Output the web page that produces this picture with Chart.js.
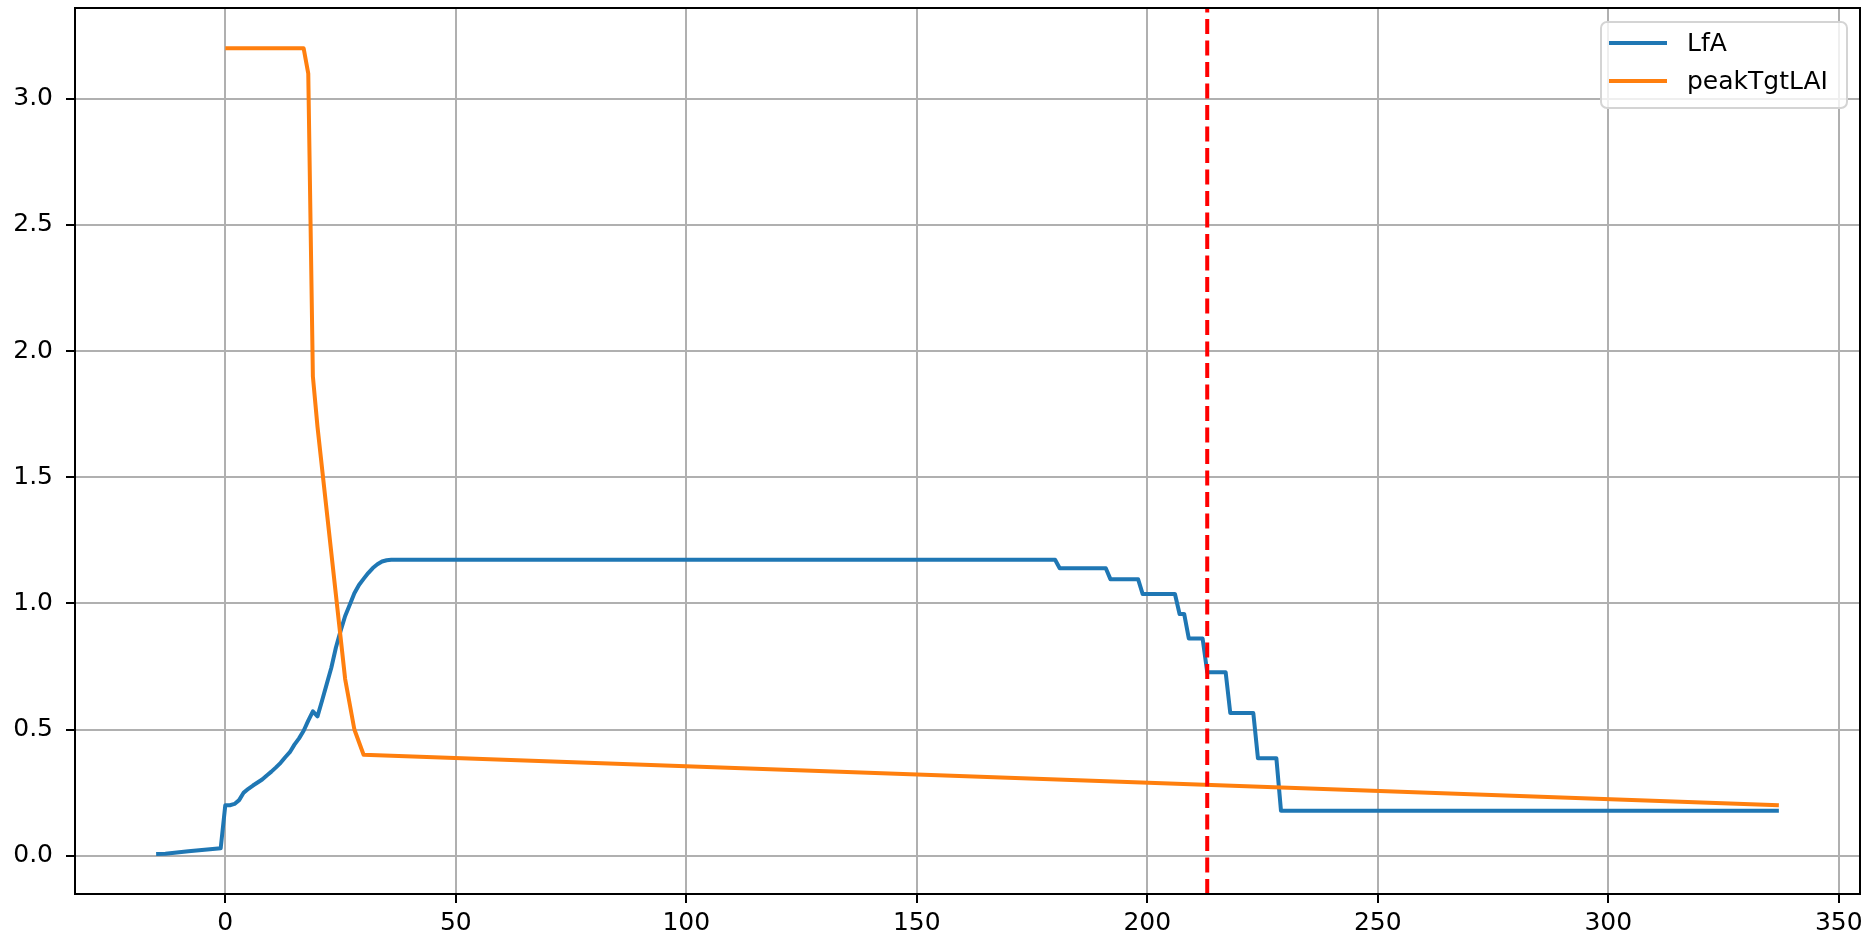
<!DOCTYPE html>
<html>
<head>
<meta charset="utf-8">
<script src="https://cdn.jsdelivr.net/npm/chart.js@4.4.1/dist/chart.umd.min.js"></script>
<style>
html, body { margin: 0; padding: 0; background: #fff; }
</style>
</head>
<body>
<canvas id="grafico" width="1870" height="941"></canvas>
<script>
// LfA series (blue)
var lfaDays = [-15, -13, -8, -1, 0, 1, 2, 3, 4, 5, 6, 7, 8, 9, 10, 11, 12, 13, 14, 15, 16, 17, 18, 19, 20,
    21, 22, 23, 24, 25, 26, 27, 28, 29, 30, 31, 32, 33, 34, 35, 36, 37,
    180, 181, 191, 192, 198, 199, 206, 207, 208, 209, 212, 213, 217, 218, 223, 224, 228, 229, 337];
var lfaValues = [0.007, 0.008, 0.017, 0.029, 0.2, 0.2, 0.205, 0.22, 0.25, 0.265, 0.278, 0.29, 0.302, 0.318, 0.333, 0.35, 0.368, 0.39, 0.41, 0.44, 0.465, 0.495, 0.535, 0.572, 0.552,
    0.615, 0.68, 0.745, 0.825, 0.89, 0.95, 0.995, 1.04, 1.073, 1.097, 1.12, 1.14, 1.155, 1.166, 1.171, 1.173, 1.173,
    1.173, 1.139, 1.139, 1.096, 1.096, 1.037, 1.037, 0.958, 0.958, 0.861, 0.861, 0.727, 0.727, 0.565, 0.565, 0.386, 0.386, 0.178, 0.178];

// peakTgtLAI series (orange)
var peakDays = [0, 17, 18, 19, 20, 26, 28, 30, 337];
var peakValues = [3.2, 3.2, 3.1, 1.9, 1.7, 0.7, 0.5, 0.4, 0.2];

// vertical marker
var markerDay = 213;

var xTicks = [0, 50, 100, 150, 200, 250, 300, 350];
var yTicks = [0, 0.5, 1, 1.5, 2, 2.5, 3];
var xMin = -32.6, xMax = 354.6;
var yMin = -0.152, yMax = 3.36;

function toPoints(xs, ys) {
    return xs.map(function (x, i) { return { x: x, y: ys[i] }; });
}

var tickFont = { family: 'DejaVu Sans', size: 25 };

// matplotlib-like frame around the axes
var frame = {
    id: 'frame',
    afterDatasetsDraw: function (chart) {
        var a = chart.chartArea, c = chart.ctx;
        c.save();
        c.strokeStyle = '#000';
        c.lineWidth = 2;
        c.strokeRect(a.left, a.top, a.right - a.left, a.bottom - a.top);
        c.restore();
    }
};

// legend box in the upper right corner
var legendBox = {
    id: 'legendBox',
    afterDraw: function (chart) {
        var a = chart.chartArea, c = chart.ctx;
        var items = chart.data.datasets.filter(function (d) { return d.label; });
        var w = 246, h = 86, r = 6;
        var x0 = a.right - 13 - w, y0 = a.top + 14;
        c.save();
        c.beginPath();
        c.moveTo(x0 + r, y0);
        c.arcTo(x0 + w, y0, x0 + w, y0 + h, r);
        c.arcTo(x0 + w, y0 + h, x0, y0 + h, r);
        c.arcTo(x0, y0 + h, x0, y0, r);
        c.arcTo(x0, y0, x0 + w, y0, r);
        c.closePath();
        c.fillStyle = 'rgba(255,255,255,0.8)';
        c.fill();
        c.strokeStyle = '#d4d4d4';
        c.lineWidth = 2;
        c.stroke();
        c.font = '25px "DejaVu Sans"';
        c.textBaseline = 'middle';
        c.fillStyle = '#000';
        items.forEach(function (d, i) {
            var y = y0 + 21 + i * 38;
            c.strokeStyle = d.borderColor;
            c.lineWidth = 4;
            c.beginPath();
            c.moveTo(x0 + 8, y);
            c.lineTo(x0 + 66, y);
            c.stroke();
            c.fillText(d.label, x0 + 86, y + 1);
        });
        c.restore();
    }
};

var ctx = document.getElementById('grafico');

var myChart = new Chart(ctx, {
    type: 'line',
    data: {
        datasets: [{
            data: [{ x: markerDay, y: yMin }, { x: markerDay, y: yMax }],
            borderColor: '#ff0000',
            borderWidth: 4,
            borderDash: [15, 6.5],
            order: 1
        }, {
            label: 'LfA',
            data: toPoints(lfaDays, lfaValues),
            borderColor: '#1f77b4',
            borderWidth: 4,
            order: 3
        }, {
            label: 'peakTgtLAI',
            data: toPoints(peakDays, peakValues),
            borderColor: '#ff7f0e',
            borderWidth: 4,
            order: 2
        }]
    },
    options: {
        responsive: false,
        devicePixelRatio: 1,
        animation: false,
        layout: { padding: { left: 0, right: 10, top: 8, bottom: 0 } },
        elements: {
            point: { radius: 0 },
            line: { tension: 0, fill: false, borderJoinStyle: 'round', borderCapStyle: 'butt' }
        },
        scales: {
            x: {
                type: 'linear',
                min: xMin,
                max: xMax,
                afterBuildTicks: function (s) { s.ticks = xTicks.map(function (v) { return { value: v }; }); },
                afterFit: function (s) { s.height = 47; s.paddingLeft = 0; s.paddingRight = 0; },
                ticks: { font: tickFont, color: '#000', padding: 5, maxRotation: 0,
                    callback: function (v) { return String(v); } },
                grid: { color: '#b0b0b0', lineWidth: 2, tickLength: 9, tickColor: '#000', tickWidth: 2 },
                border: { display: false }
            },
            y: {
                type: 'linear',
                min: yMin,
                max: yMax,
                afterBuildTicks: function (s) { s.ticks = yTicks.map(function (v) { return { value: v }; }); },
                afterFit: function (s) { s.width = 75; s.paddingTop = 0; s.paddingBottom = 0; },
                ticks: { font: tickFont, color: '#000', padding: 13,
                    callback: function (v) { return v.toFixed(1); } },
                grid: { color: '#b0b0b0', lineWidth: 2, tickLength: 9, tickColor: '#000', tickWidth: 2 },
                border: { display: false }
            }
        },
        plugins: {
            legend: { display: false },
            tooltip: { enabled: false }
        }
    },
    plugins: [frame, legendBox]
});
</script>
</body>
</html>
